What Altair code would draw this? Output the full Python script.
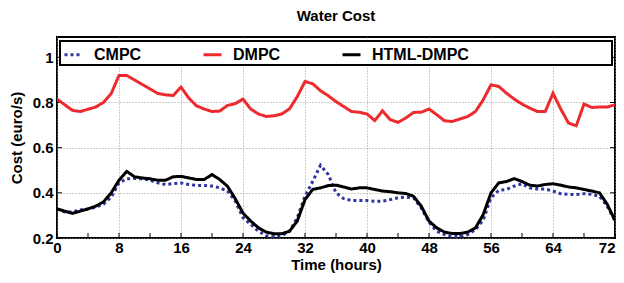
import altair as alt
import pandas as pd

hours = list(range(0, 73))

cmpc = [0.329, 0.315, 0.315, 0.324, 0.329, 0.337, 0.350, 0.381, 0.444, 0.462,
        0.464, 0.462, 0.456, 0.444, 0.437, 0.441, 0.444, 0.437, 0.433, 0.433,
        0.430, 0.422, 0.408, 0.363, 0.290, 0.260, 0.230, 0.210, 0.205, 0.210,
        0.230, 0.290, 0.385, 0.451, 0.522, 0.481, 0.400, 0.374, 0.366, 0.366,
        0.366, 0.363, 0.363, 0.370, 0.378, 0.381, 0.378, 0.333, 0.270, 0.230,
        0.215, 0.207, 0.207, 0.215, 0.237, 0.280, 0.378, 0.411, 0.415, 0.430,
        0.440, 0.422, 0.417, 0.417, 0.408, 0.396, 0.393, 0.393, 0.396, 0.393,
        0.385, 0.341, 0.275]

dmpc = [0.815, 0.790, 0.765, 0.760, 0.770, 0.780, 0.800, 0.840, 0.920, 0.920,
        0.900, 0.880, 0.860, 0.840, 0.834, 0.831, 0.868, 0.820, 0.785, 0.771,
        0.760, 0.762, 0.787, 0.795, 0.815, 0.771, 0.749, 0.738, 0.741, 0.749,
        0.772, 0.826, 0.893, 0.883, 0.852, 0.830, 0.804, 0.782, 0.760, 0.757,
        0.749, 0.720, 0.763, 0.724, 0.712, 0.731, 0.756, 0.757, 0.771, 0.746,
        0.719, 0.716, 0.727, 0.738, 0.760, 0.812, 0.878, 0.871, 0.841, 0.815,
        0.793, 0.775, 0.760, 0.760, 0.841, 0.771, 0.709, 0.697, 0.793, 0.778,
        0.780, 0.780, 0.790]

html_dmpc = [0.329, 0.319, 0.309, 0.319, 0.329, 0.341, 0.360, 0.400, 0.456, 0.495,
             0.471, 0.466, 0.462, 0.456, 0.456, 0.471, 0.473, 0.466, 0.459, 0.459,
             0.481, 0.459, 0.429, 0.374, 0.310, 0.275, 0.245, 0.226, 0.219, 0.219,
             0.230, 0.275, 0.370, 0.415, 0.422, 0.432, 0.434, 0.426, 0.417, 0.422,
             0.422, 0.415, 0.408, 0.405, 0.400, 0.397, 0.385, 0.341, 0.275, 0.245,
             0.226, 0.220, 0.220, 0.226, 0.245, 0.304, 0.400, 0.444, 0.450, 0.463,
             0.450, 0.434, 0.430, 0.437, 0.440, 0.434, 0.426, 0.422, 0.415, 0.408,
             0.400, 0.349, 0.278]

series_names = ["CMPC", "DMPC", "HTML-DMPC"]
series_colors = ["#2e35a0", "#ee2a2e", "#000000"]
series_dash = [[3, 3], [1, 0], [1, 0]]
series_width = [3, 3, 2.5]

x_ticks = list(range(0, 73, 4))
y_ticks = [0.2, 0.4, 0.6, 0.8, 1.0]

W, H = 558, 201
FONT = "Liberation Sans"

rows = []
for name, vals in zip(series_names, [cmpc, dmpc, html_dmpc]):
    for h, v in zip(hours, vals):
        rows.append({"hour": h, "cost": v, "series": name})
df = pd.DataFrame(rows)

xscale = alt.Scale(domain=[0, 72], nice=False)
yscale = alt.Scale(domain=[0.2, 1.09], nice=False)

color = alt.Color(
    "series:N",
    scale=alt.Scale(domain=series_names, range=series_colors),
    legend=alt.Legend(title=None),
)
dash = alt.StrokeDash(
    "series:N",
    scale=alt.Scale(domain=series_names, range=series_dash),
    legend=alt.Legend(title=None),
)
sw = alt.StrokeWidth(
    "series:N",
    scale=alt.Scale(domain=series_names, range=series_width),
    legend=None,
)

lines = alt.Chart(df).mark_line(clip=True).encode(
    x=alt.X(
        "hour:Q",
        scale=xscale,
        axis=alt.Axis(
            values=x_ticks,
            labelExpr="datum.value % 8 == 0 ? datum.label : ''",
            labelAlign={"condition": {"test": "datum.value == 72", "value": "right"}, "value": "center"},
            title="Time (hours)",
        ),
    ),
    y=alt.Y(
        "cost:Q",
        scale=yscale,
        axis=alt.Axis(values=y_ticks, format="~g", title="Cost (euro/s)"),
    ),
    color=color,
    strokeDash=dash,
    strokeWidth=sw,
    detail="series:N",
)

xt = pd.DataFrame({"t": x_ticks})
yt = pd.DataFrame({"v": y_ticks})

bottom_ticks = alt.Chart(xt).mark_rule(color="black", strokeWidth=1).encode(
    x=alt.X("t:Q", scale=xscale), y=alt.value(H), y2=alt.value(H - 5)
)
left_ticks = alt.Chart(yt).mark_rule(color="black", strokeWidth=1).encode(
    y=alt.Y("v:Q", scale=yscale), x=alt.value(0), x2=alt.value(5)
)
right_ticks = alt.Chart(yt).mark_rule(color="black", strokeWidth=1).encode(
    y=alt.Y("v:Q", scale=yscale), x=alt.value(W), x2=alt.value(W - 5)
)

legend_box = alt.Chart(pd.DataFrame({"a": [0]})).mark_rect(
    fill="white", stroke="black", strokeWidth=2
).encode(x=alt.value(3), x2=alt.value(555), y=alt.value(4), y2=alt.value(28))

chart = alt.layer(
    bottom_ticks, left_ticks, right_ticks, legend_box, lines
).properties(
    width=W,
    height=H,
    title=alt.TitleParams(
        "Water Cost", font=FONT, fontSize=15, fontWeight="bold", color="black", offset=13
    ),
    autosize=alt.AutoSizeParams(type="none"),
    padding={"left": 49, "top": 29, "right": 1, "bottom": 37},
).configure_view(
    stroke="black", strokeWidth=2
).configure_axis(
    domain=False,
    ticks=False,
    grid=True,
    gridColor="#9a9a9a",
    gridDash=[1, 2],
    gridWidth=1,
    labelFont=FONT,
    labelFontSize=15,
    labelFontWeight="bold",
    labelColor="black",
    titleFont=FONT,
    titleFontSize=15,
    titleFontWeight="bold",
    titleColor="black",
).configure_axisX(
    labelPadding=2, titlePadding=2, labelFlush=False, labelOverlap=False
).configure_axisY(
    labelPadding=4, titlePadding=8, labelOverlap=False
).configure_legend(
    orient="none",
    legendX=6,
    legendY=7,
    direction="horizontal",
    padding=0,
    columnPadding=55,
    labelOffset=10,
    labelFont=FONT,
    labelFontSize=16,
    labelFontWeight="bold",
    labelColor="black",
    symbolType="stroke",
    symbolSize=324,
    symbolStrokeWidth=2.5,
)

chart.save("out.html", embed_options={"renderer": "svg", "actions": False})
